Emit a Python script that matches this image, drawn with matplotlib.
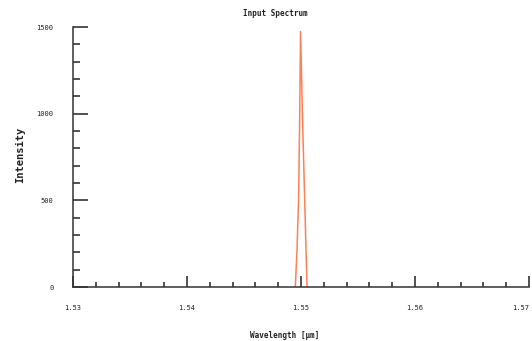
import matplotlib
matplotlib.use("Agg")
import matplotlib.pyplot as plt
from matplotlib.ticker import MultipleLocator

# Data
wavelength = [1.5495, 1.54965, 1.54979, 1.54988, 1.54996, 1.55014, 1.55032, 1.55044, 1.55053]
intensity = [0, 213, 513, 954, 1473, 954, 513, 213, 0]

title = "Input Spectrum"
xlabel = "Wavelength [\u00b5m]"
ylabel = "Intensity"
xticks = [1.53, 1.54, 1.55, 1.56, 1.57]
xticklabels = ["1.53", "1.54", "1.55", "1.56", "1.57"]
yticks = [0, 500, 1000, 1500]
yticklabels = ["0", "500", "1000", "1500"]

fig = plt.figure(figsize=(5.32, 3.41), dpi=100)
ax = fig.add_axes([73/532, 54/341, (529-73)/532, (287-27)/341])

ax.plot(wavelength, intensity, color="#ff7f55", lw=1.1)

ax.set_xlim(1.53, 1.57)
ax.set_ylim(0, 1500)
ax.set_xticks(xticks)
ax.set_xticklabels(xticklabels)
ax.set_yticks(yticks)
ax.set_yticklabels(yticklabels)
ax.xaxis.set_minor_locator(MultipleLocator(0.002))
ax.yaxis.set_minor_locator(MultipleLocator(100))

for s in ["top", "right"]:
    ax.spines[s].set_visible(False)
for s in ["left", "bottom"]:
    ax.spines[s].set_color("#333333")
    ax.spines[s].set_linewidth(1.1)

ax.tick_params(axis="y", which="major", direction="in", length=11, width=1.1, color="#222222", pad=14)
ax.tick_params(axis="y", which="minor", direction="in", length=5, width=1.1, color="#222222")
ax.tick_params(axis="x", which="major", direction="in", length=8, width=1.1, color="#222222", pad=13)
ax.tick_params(axis="x", which="minor", direction="in", length=3.5, width=1.1, color="#222222")
for lab in ax.get_xticklabels() + ax.get_yticklabels():
    lab.set_fontfamily("DejaVu Sans Mono")
    lab.set_fontsize(5)
    lab.set_color("#222222")
ax.get_xticklabels()[-1].set_horizontalalignment("right")

fig.text(275/532, 1 - 14/341, title, ha="center", va="center", fontsize=5.5,
         family="DejaVu Sans Mono", fontweight="bold", color="#222222")
fig.text(285/532, 1 - 335/341, xlabel, ha="center", va="center", fontsize=5.5,
         family="DejaVu Sans Mono", fontweight="bold", color="#222222")
fig.text(20/532, 1 - 155/341, ylabel, ha="center", va="center", rotation=90, fontsize=7.5,
         family="DejaVu Sans Mono", fontweight="bold", color="#222222")

fig.savefig("out.png", dpi=100)
